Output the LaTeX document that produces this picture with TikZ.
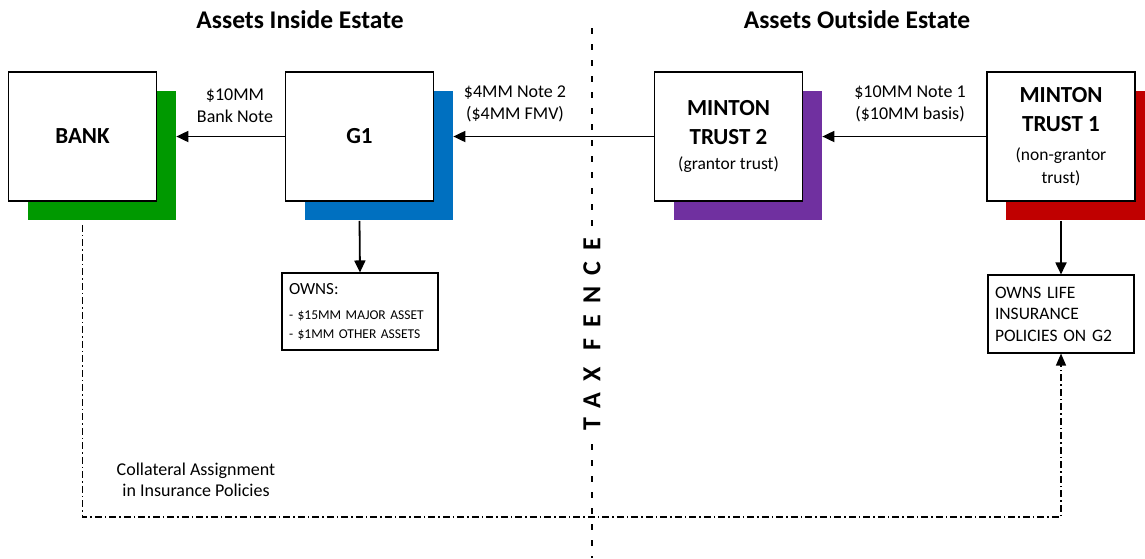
\documentclass[tikz,border=0pt]{standalone}
\usepackage{fontspec}
\setmainfont{Carlito}
\usetikzlibrary{arrows.meta,shadows}

\definecolor{bankgreen}{RGB}{0,153,0}
\definecolor{gblue}{RGB}{0,112,192}
\definecolor{trustpurple}{RGB}{112,48,160}
\definecolor{trustred}{RGB}{192,0,0}

\begin{document}
\begin{tikzpicture}[
	x=1pt, y=-1pt,
	entity/.style={ draw, line width=1.7pt, fill=white, minimum width=148pt, minimum height=129pt, inner sep=2pt, align=center, font=\fontsize{23}{29}\selectfont\bfseries },
	backed/.style={ general shadow={ fill=#1, shadow xshift=19pt, shadow yshift=-19pt } },
	holding/.style={ draw, line width=1.1pt, fill=white, align=left, inner xsep=7pt, inner ysep=4pt },
	flow/.style={ line width=1.8pt, -{Triangle[length=12pt,width=11pt]} },
	note/.style={ align=center, font=\fontsize{18}{22}\selectfont },
	heading/.style={ font=\fontsize{25.5}{30}\selectfont\bfseries },
	fence/.style={ line width=2.5pt, dash pattern=on 6pt off 10pt },
	collat/.style={ line width=1.3pt, dash pattern=on 7pt off 3pt on 1.5pt off 3pt, -{Triangle[length=12pt,width=10pt]} }
]
\useasboundingbox (0,0) rectangle (1145,558);

% headings over each side of the fence
\node at (300,20) (inside) [heading] {Assets Inside Estate};
\node at (857,20) (outside) [heading] {Assets Outside Estate};

% the tax fence
\coordinate (fencetop) at (592,28);
\coordinate (fencefoot) at (592,558);
\draw[fence] (fencetop) -- (fencefoot);
\node at (592,334) (fencelabel) [rotate=90, fill=white, inner sep=5pt, font=\fontsize{26}{30}\selectfont\bfseries\addfontfeature{LetterSpace=43}] {TAX FENCE};

% entities with coloured backing
\node at (82.5,136.5) (bank) [entity, backed=bankgreen] {BANK};
\node at (359.5,136.5) (gone) [entity, backed=gblue] {G1};
\node at (728.5,136.5) (mtwo) [entity, backed=trustpurple] {MINTON\\TRUST 2\\[-4pt]{\mdseries\fontsize{17.5}{22}\selectfont (grantor trust)}};
\node at (1061,136.5) (mone) [entity, backed=trustred] {MINTON\\TRUST 1\\[0pt]{\mdseries\fontsize{17.5}{22}\selectfont (non-grantor}\\[-6pt]{\mdseries\fontsize{17.5}{22}\selectfont trust)}};

% notes passed from right to left
\draw[flow] (gone.west) to ([xshift=19pt]bank.east);
\draw[flow] (mtwo.west) to ([xshift=19pt]gone.east);
\draw[flow] (mone.west) to ([xshift=19pt]mtwo.east);
\node at (235,106) (banknote) [note] {\$10MM\\Bank Note};
\node at (515,104) (notetwo) [note] {\$4MM Note 2\\(\$4MM FMV)};
\node at (910,104) (noteone) [note] {\$10MM Note 1\\(\$10MM basis)};

% what is held
\node at (360,311.5) (owns) [holding, text width=142pt, minimum height=77pt, font=\fontsize{13.5}{19}\selectfont] {{\fontsize{17}{20}\selectfont OWNS:}\\[6pt]- \$15MM MAJOR ASSET\\- \$1MM OTHER ASSETS};
\node at (1061,314) (life) [holding, text width=132pt, minimum height=78pt, font=\fontsize{17.5}{21.5}\selectfont] {OWNS LIFE\\INSURANCE\\POLICIES ON G2};
\draw[flow] ([yshift=-19pt]gone.south) to (owns.north);
\draw[flow] ([yshift=-19pt]mone.south) to (life.north);

% collateral assignment back to the bank
\coordinate (assignbase) at (0,517);
\draw[collat] ([yshift=-23pt]bank.south) |- (assignbase -| life.south) -- (life.south);
\node at (196,480) (assign) [note, font=\fontsize{18}{20.5}\selectfont] {Collateral Assignment\\in Insurance Policies};

\end{tikzpicture}
\end{document}
